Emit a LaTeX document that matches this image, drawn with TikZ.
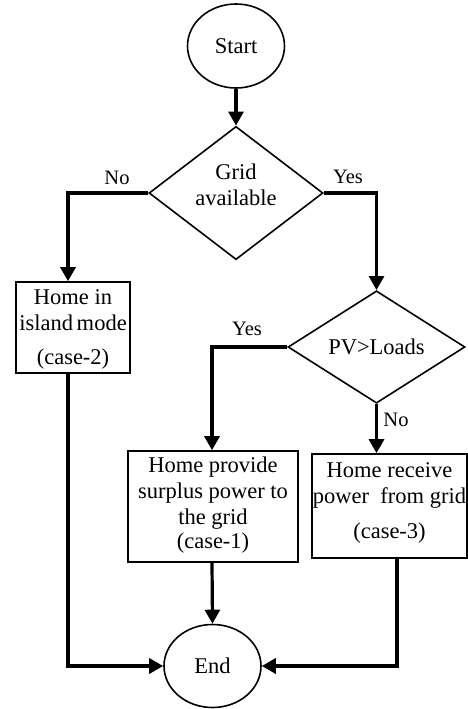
\documentclass[tikz,border=0pt]{standalone}
\usepackage{fontspec}
\setmainfont{Liberation Serif}
\usetikzlibrary{shapes.geometric,arrows.meta}
\newcommand{\txtblock}[2]{\raisebox{#1}[\height][\depth]{\begin{tabular}{@{}c@{}}#2\end{tabular}}}
\begin{document}
\begin{tikzpicture}[x=1pt,y=-1pt,
  every node/.style={font=\fontsize{22.5}{26}\selectfont},
  term/.style={ellipse,draw,line width=1.6pt,minimum width=97pt,minimum height=84pt,inner sep=0pt},
  decide/.style={diamond,draw,line width=1.6pt,inner sep=0pt,align=center},
  proc/.style={rectangle,draw,line width=1.6pt,inner sep=0pt,align=center},
  arr/.style={line width=3.2pt,-{Triangle[length=14pt,width=15pt]}},
  lbl/.style={font=\fontsize{20.5}{24}\selectfont}
]
\useasboundingbox (0,0) rectangle (468,709);
\node[term] (start) at (236,46) {Start};
\node[decide,minimum width=174pt,minimum height=110pt] (d1) at (236,193) {\txtblock{6pt}{Grid\\available}};
\node[proc,minimum width=114pt,minimum height=91pt] (b2) at (73,327.5) {\txtblock{-2pt}{Home in\\island\,mode\\[8pt](case-2)}};
\node[decide,minimum width=177pt,minimum height=107pt] (d2) at (376.5,347) {PV>Loads};
\node[proc,minimum width=170pt,minimum height=111pt] (b1) at (213,506.5) {\txtblock{1pt}{Home provide\\surplus power to\\the grid\\[-2pt](case-1)}};
\node[proc,minimum width=155pt,minimum height=104pt] (b3) at (389.5,506) {\txtblock{3pt}{Home receive\\power~ from grid\\[9pt](case-3)}};
\node[term,minimum height=83pt] (end) at (212.5,666) {End};

\node[lbl] (no1) at (117,178) {No};
\node[lbl] (yes1) at (348,177) {Yes};
\node[lbl] (yes2) at (247,329) {Yes};
\node[lbl] (no2) at (396,420) {No};

\draw[arr] (start) -- (d1);
\draw[arr] (d1.west) -| ([xshift=-5pt]b2.north);
\draw[arr] (d1.east) -| (d2.north);
\draw[arr] (d2.west) -| ([xshift=-1pt]b1.north);
\draw[arr] (d2.south) -- (d2.south |- b3.north);
\draw[arr] ([xshift=-1pt]b1.south) -- (end.north);
\draw[arr] ([xshift=-5pt]b2.south) |- (end.west);
\draw[arr] ([xshift=7.5pt]b3.south) |- (end.east);
\end{tikzpicture}
\end{document}
